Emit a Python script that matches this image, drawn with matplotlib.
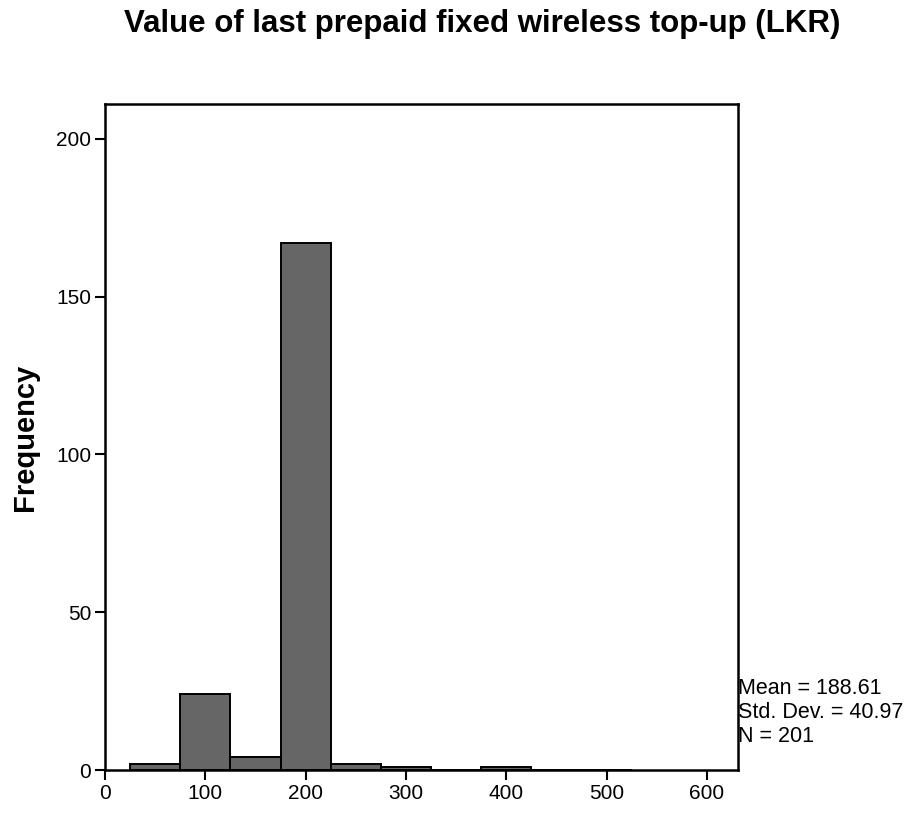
import matplotlib
matplotlib.use("Agg")
import matplotlib.pyplot as plt

bin_centers = [50, 100, 150, 200, 250, 300, 350, 400, 450, 500]
counts = [2, 24, 4, 167, 2, 1, 0, 1, 0, 0]
bin_width = 50
x_ticks = [0, 100, 200, 300, 400, 500, 600]
y_ticks = [0, 50, 100, 150, 200]
title = "Value of last prepaid fixed wireless top-up (LKR)"
stats = ["Mean = 188.61", "Std. Dev. = 40.97", "N = 201"]

plt.rcParams['font.family'] = ['Liberation Sans', 'DejaVu Sans']
fig = plt.figure(figsize=(9.07, 8.14), dpi=100)
ax = fig.add_axes([0.1158, 0.054, 0.698, 0.818])
ax.bar(bin_centers, counts, width=bin_width, color='#666666', edgecolor='black', linewidth=1.4)
ax.set_xlim(0, 631)
ax.set_ylim(0, 211)
ax.set_xticks(x_ticks)
ax.set_yticks(y_ticks)
ax.tick_params(direction='out', length=7, width=1.5, labelsize=15, colors='black', pad=3)
for s in ax.spines.values():
    s.set_linewidth(1.8)
ax.set_ylabel("Frequency", fontsize=21, fontweight='bold', labelpad=12)
fig.text(0.532, (814 - 24) / 814, title, ha='center', va='center', fontsize=22.5, fontweight='bold')
for i, line in enumerate(stats):
    fig.text(0.8137, (814 - 688 - i * 24.5) / 814, line, ha='left', va='center', fontsize=15.5)
fig.savefig("out.png", dpi=100)
